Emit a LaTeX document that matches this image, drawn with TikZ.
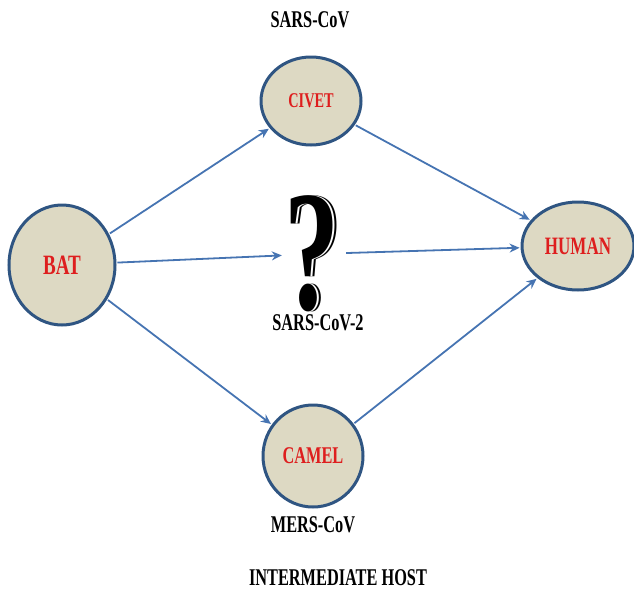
\documentclass[tikz,border=0pt]{standalone}
\usepackage{fontspec}
\setmainfont{Liberation Serif}
\newfontfamily\condfont{Liberation Serif}[FakeStretch=0.68]
\newfontfamily\qfont{Liberation Serif}[FakeStretch=0.64]
\usetikzlibrary{shapes.geometric,arrows.meta}
\definecolor{hostfill}{RGB}{221,217,195}
\definecolor{hostline}{RGB}{47,85,130}
\definecolor{arrowblue}{RGB}{70,116,178}
\definecolor{hostred}{RGB}{222,30,30}
\tikzset{
  host/.style={ellipse, draw=hostline, fill=hostfill, line width=3pt, inner sep=0pt,
    text=hostred, font=\condfont\bfseries},
  lbl/.style={font=\condfont\bfseries\fontsize{24}{27}\selectfont, text=black, inner sep=0pt},
  qmark/.style={inner sep=0pt, font=\qfont\bfseries\fontsize{172}{172}\selectfont},
  link/.style={draw=arrowblue, line width=1.8pt, -{Stealth[length=10pt,width=9pt]}, shorten >=1pt, shorten <=1pt}
}
\begin{document}
\begin{tikzpicture}[x=1pt,y=-1pt]
\useasboundingbox (0,0) rectangle (634,592);
\node[host, minimum width=106pt, minimum height=120pt, font=\condfont\bfseries\fontsize{28}{31}\selectfont] (bat) at (62,265) {BAT};
\node[host, minimum width=100pt, minimum height=88pt, font=\condfont\bfseries\fontsize{21}{24}\selectfont] (civet) at (311,101) {CIVET};
\node[host, minimum width=112pt, minimum height=88pt, font=\condfont\bfseries\fontsize{25}{28}\selectfont] (human) at (578,246) {HUMAN};
\node[host, minimum width=100pt, minimum height=102pt, font=\condfont\bfseries\fontsize{24}{27}\selectfont] (camel) at (313,456) {CAMEL};
% question mark with shadow (single text)
\node[qmark] (qtext) at (312,254) {\rlap{\kern4.5pt ?}\rlap{\color{white}\kern2.5pt ?}?};
\node[draw=none, minimum width=62pt, minimum height=110pt, inner sep=0pt] (qm) at (314,254) {};
% labels
\node[lbl] (l1) at (310,20) {SARS-CoV};
\node[lbl] (l2) at (318,323) {SARS-CoV-2};
\node[lbl] (l3) at (313,525) {MERS-CoV};
\node[lbl] (l4) at (338,578) {INTERMEDIATE HOST};
% connectors
\draw[link] (bat) -- (civet);
\draw[link] (bat) -- (qm);
\draw[link] (bat) -- (camel);
\draw[link] (civet) -- (human);
\draw[link] (qm) -- (human);
\draw[link] (camel) -- (human);
\end{tikzpicture}
\end{document}
